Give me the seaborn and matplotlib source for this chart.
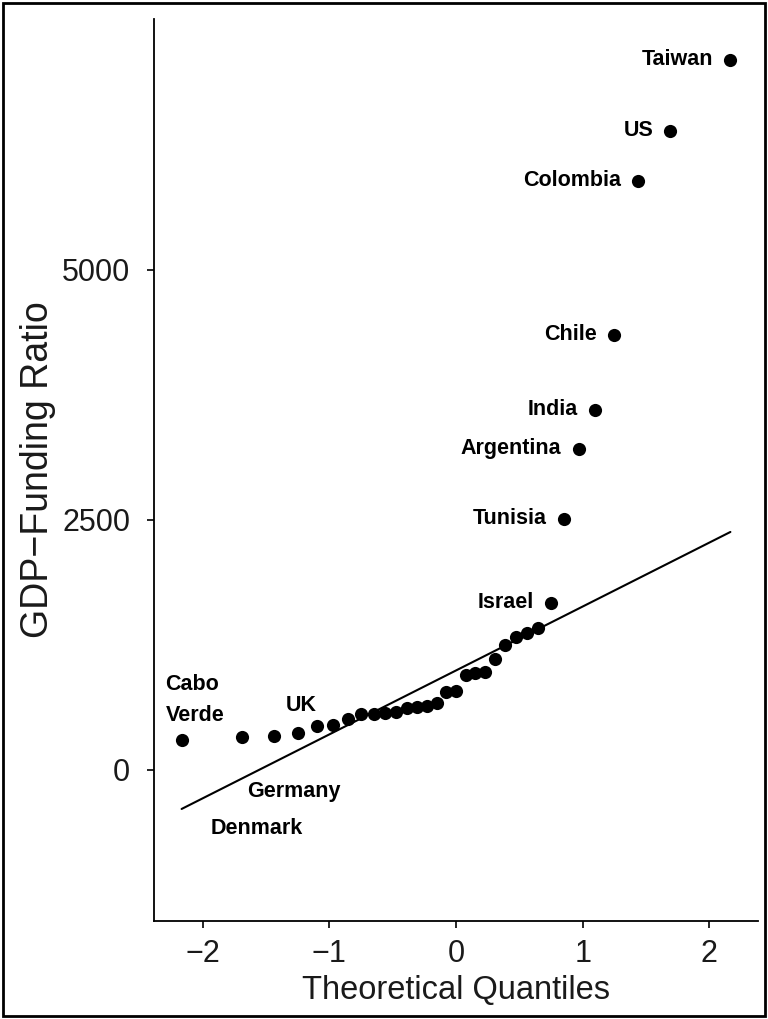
import matplotlib
matplotlib.use("Agg")
import matplotlib.pyplot as plt
import matplotlib.patches as patches
import seaborn as sns
import pandas as pd

# theoretical normal quantiles of the 33 ranked countries
quantiles = [-2.166, -1.691, -1.435, -1.248, -1.097, -0.967, -0.852, -0.748, -0.651,
             -0.559, -0.473, -0.390, -0.309, -0.230, -0.153, -0.076, 0.0, 0.076,
             0.153, 0.230, 0.309, 0.390, 0.473, 0.559, 0.651, 0.748, 0.852, 0.967,
             1.097, 1.248, 1.435, 1.691, 2.166]
ratios = [300, 327, 340, 367, 440, 453, 507, 555, 560, 570, 575, 617, 633, 640,
          667, 783, 790, 950, 967, 977, 1107, 1250, 1333, 1367, 1417, 1673, 2510,
          3210, 3600, 4350, 5893, 6393, 7100]

# reference line (qq line) end points
line_x = [-2.166, 2.166]
line_y = [-390, 2380]

# labelled countries: rank index -> name
label_idx = [0, 1, 2, 3, 25, 26, 27, 28, 29, 30, 31, 32]
label_names = ["Cabo\nVerde", "Denmark", "Germany", "UK", "Israel", "Tunisia",
               "Argentina", "India", "Chile", "Colombia", "US", "Taiwan"]

df = pd.DataFrame({"q": quantiles, "ratio": ratios})
line_df = pd.DataFrame({"x": line_x, "y": line_y})

sns.set_style("ticks")
plt.rcParams["font.family"] = ["Liberation Sans", "DejaVu Sans"]

fig = plt.figure(figsize=(7.68, 10.19), dpi=100)
ax = fig.add_axes([0.2005, 0.0962, 0.7865, 0.8852])

sns.lineplot(data=line_df, x="x", y="y", color="black", linewidth=1.5, ax=ax)
sns.scatterplot(data=df, x="q", y="ratio", color="black", s=90, linewidth=0, ax=ax, zorder=3)

# label offsets in pixels (dx, dy) and alignment
offsets = {
    "Cabo\nVerde": (-16, 40, "left"),
    "Denmark": (15, -91, "center"),
    "Germany": (20, -56, "center"),
    "UK": (3, 28, "center"),
}
for i, name in zip(label_idx, label_names):
    dx, dy, ha = offsets.get(name, (-17, 0, "right"))
    ax.annotate(name, xy=(quantiles[i], ratios[i]), xytext=(dx, dy),
                textcoords="offset pixels", ha=ha, va="center",
                fontsize=15.5, fontweight="bold", color="black",
                multialignment="left", linespacing=1.6)

ax.set_xlim(-2.384, 2.384)
ax.set_ylim(-1510, 7510)
ax.set_xticks([-2, -1, 0, 1, 2])
ax.set_yticks([0, 2500, 5000])
ax.set_xticklabels(["\u22122", "\u22121", "0", "1", "2"])
ax.set_yticklabels(["0", "2500", "5000"])

sns.despine(ax=ax)
for sp in ["left", "bottom"]:
    ax.spines[sp].set_linewidth(1.3)
    ax.spines[sp].set_color("black")
ax.tick_params(axis="both", length=5, width=1.2, color="black", labelsize=22,
               labelcolor="#1a1a1a")
ax.tick_params(axis="x", pad=8)
ax.tick_params(axis="y", pad=12)

ax.set_xlabel("Theoretical Quantiles", fontsize=23.5, color="#1a1a1a", va="center")
ax.set_ylabel("GDP\u2212Funding Ratio", fontsize=27, color="#1a1a1a", va="center")
ax.xaxis.set_label_coords(0.5, -0.077)
ax.yaxis.set_label_coords(-0.192, 0.5)

# outer frame around the whole figure
fig.patches.append(patches.Rectangle((0.004, 0.003), 0.992, 0.994, transform=fig.transFigure,
                                     fill=False, edgecolor="black", linewidth=2))

fig.savefig("out.png", dpi=100)
